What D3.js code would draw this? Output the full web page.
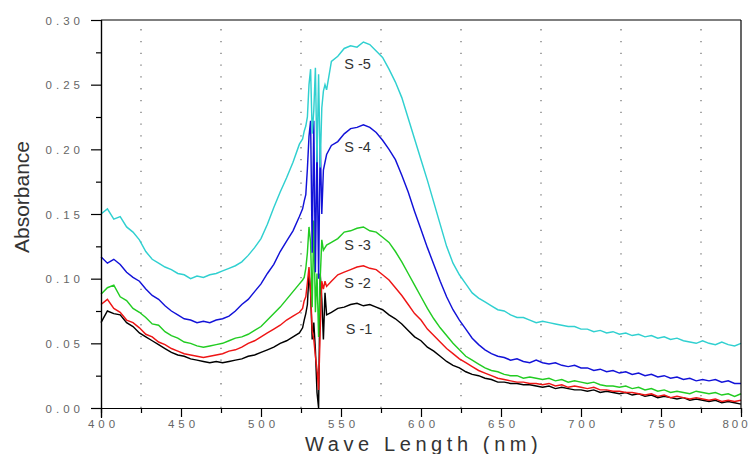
<!DOCTYPE html>
<html><head><meta charset="utf-8">
<script src="https://cdn.jsdelivr.net/npm/d3@7"></script>
<style>body{margin:0;background:#fff}svg{display:block}</style>
</head><body>
<svg id="c" width="753" height="454"></svg>
<script>
// wavelength grid (nm): coarse, fine around the 526-541 nm spikes, coarse
const wavelengths = [].concat(d3.range(400, 525, 4), d3.range(526, 542, 1), d3.range(544, 801, 4));

const seriesNames = ["S -1", "S -2", "S -3", "S -4", "S -5"];
const seriesColors = ["#000000", "#ee1515", "#22cc22", "#1212d8", "#30d0d0"];

// S-1 (black)
const s1 = [
 0.066,0.075,0.073,0.072,0.066,0.063,0.058,0.055,0.052,0.049,0.046,0.043,0.041,0.040,0.038,0.037,
 0.036,0.035,0.036,0.035,0.036,0.037,0.038,0.040,0.041,0.043,0.045,0.047,0.050,0.052,0.055,0.058,
 0.062,0.068,0.073,0.080,0.104,0.089,0.053,0.066,0.045,0.012,0.000,0.104,0.084,0.053,0.089,0.072,
 0.074,0.077,0.078,0.080,0.081,0.079,0.080,0.078,0.076,0.072,0.069,0.065,0.060,0.055,0.052,0.047,
 0.044,0.040,0.036,0.033,0.031,0.028,0.026,0.025,0.023,0.022,0.020,0.020,0.019,0.019,0.018,0.018,
 0.017,0.016,0.017,0.015,0.016,0.015,0.014,0.014,0.013,0.014,0.012,0.013,0.012,0.011,0.012,0.010,
 0.011,0.009,0.010,0.008,0.009,0.008,0.007,0.008,0.006,0.007,0.006,0.005,0.006,0.004,0.005,0.004,
 0.003
];
// S-2 (red)
const s2 = [
 0.080,0.084,0.077,0.074,0.068,0.066,0.062,0.057,0.055,0.051,0.049,0.046,0.044,0.042,0.041,0.040,
 0.039,0.040,0.041,0.042,0.044,0.045,0.047,0.050,0.052,0.055,0.058,0.061,0.064,0.068,0.071,0.074,
 0.077,0.083,0.086,0.097,0.109,0.090,0.060,0.053,0.040,0.030,0.014,0.060,0.098,0.092,0.098,0.094,
 0.098,0.103,0.105,0.107,0.109,0.110,0.108,0.107,0.103,0.099,0.093,0.087,0.080,0.073,0.068,0.061,
 0.056,0.051,0.046,0.042,0.038,0.035,0.032,0.029,0.027,0.025,0.023,0.022,0.021,0.020,0.020,0.019,
 0.019,0.018,0.019,0.017,0.018,0.016,0.017,0.016,0.015,0.016,0.014,0.014,0.013,0.013,0.012,0.012,
 0.011,0.010,0.011,0.009,0.010,0.008,0.009,0.008,0.007,0.008,0.007,0.006,0.007,0.005,0.006,0.005,
 0.006
];
// S-3 (green)
const s3 = [
 0.088,0.093,0.095,0.086,0.083,0.077,0.074,0.070,0.065,0.064,0.059,0.056,0.054,0.051,0.050,0.048,
 0.047,0.048,0.049,0.050,0.052,0.054,0.055,0.057,0.060,0.063,0.068,0.073,0.078,0.084,0.090,0.096,
 0.099,0.101,0.108,0.120,0.140,0.128,0.078,0.145,0.074,0.104,0.055,0.100,0.130,0.122,0.124,0.126,
 0.128,0.131,0.136,0.137,0.139,0.140,0.137,0.136,0.132,0.128,0.121,0.113,0.104,0.095,0.086,0.077,
 0.069,0.062,0.056,0.050,0.045,0.040,0.037,0.034,0.031,0.029,0.028,0.026,0.025,0.025,0.023,0.024,
 0.023,0.022,0.023,0.021,0.022,0.020,0.021,0.020,0.019,0.020,0.018,0.017,0.017,0.016,0.017,0.015,
 0.016,0.014,0.015,0.013,0.014,0.012,0.013,0.012,0.011,0.013,0.012,0.011,0.012,0.010,0.011,0.009,
 0.011
];
// S-4 (blue)
const s4 = [
 0.117,0.112,0.115,0.111,0.105,0.101,0.098,0.092,0.087,0.084,0.079,0.075,0.072,0.069,0.068,0.066,
 0.067,0.066,0.068,0.069,0.071,0.075,0.080,0.084,0.090,0.096,0.104,0.111,0.121,0.129,0.137,0.148,
 0.154,0.160,0.165,0.185,0.210,0.222,0.120,0.222,0.105,0.205,0.100,0.207,0.150,0.184,0.190,0.196,
 0.203,0.206,0.212,0.216,0.217,0.219,0.217,0.213,0.207,0.200,0.192,0.180,0.167,0.152,0.138,0.124,
 0.111,0.098,0.086,0.076,0.068,0.061,0.054,0.049,0.045,0.042,0.040,0.039,0.037,0.038,0.036,0.035,
 0.037,0.035,0.034,0.035,0.033,0.032,0.033,0.031,0.031,0.029,0.030,0.028,0.029,0.027,0.028,0.026,
 0.027,0.025,0.026,0.024,0.025,0.023,0.024,0.022,0.023,0.021,0.022,0.021,0.022,0.020,0.021,0.019,
 0.019
];
// S-5 (cyan)
const s5 = [
 0.150,0.154,0.146,0.148,0.140,0.136,0.130,0.121,0.115,0.112,0.109,0.107,0.104,0.103,0.100,0.102,
 0.101,0.103,0.104,0.106,0.108,0.110,0.113,0.118,0.124,0.131,0.142,0.155,0.167,0.178,0.190,0.204,
 0.208,0.214,0.218,0.225,0.250,0.262,0.212,0.230,0.263,0.190,0.258,0.186,0.232,0.245,0.250,0.246,
 0.268,0.272,0.278,0.280,0.279,0.283,0.281,0.276,0.271,0.262,0.252,0.240,0.224,0.208,0.192,0.176,
 0.159,0.142,0.125,0.112,0.103,0.096,0.089,0.085,0.082,0.079,0.076,0.075,0.072,0.070,0.070,0.068,
 0.066,0.067,0.066,0.065,0.064,0.063,0.063,0.061,0.061,0.059,0.060,0.058,0.059,0.057,0.058,0.056,
 0.057,0.055,0.056,0.054,0.055,0.053,0.054,0.052,0.051,0.050,0.052,0.050,0.049,0.051,0.049,0.048,
 0.050
];

const xTicks = [400, 450, 500, 550, 600, 650, 700, 750, 800];
const xMinorTicks = [425, 475, 525, 575, 625, 675, 725, 775];
const yTicks = [0.00, 0.05, 0.10, 0.15, 0.20, 0.25, 0.30];
const yMinorTicks = [0.025, 0.075, 0.125, 0.175, 0.225, 0.275];
const gridX = [425, 475, 525, 575, 625, 675, 725, 775];
const labelSpots = [ // [wavelength, absorbance] where each series name sits
  [553, 0.061], [552, 0.097], [552, 0.126], [552, 0.202], [552, 0.266]
];

const svg = d3.select("#c");
const x = d3.scaleLinear().domain([400, 800]).range([101, 741]);
const y = d3.scaleLinear().domain([0, 0.30]).range([408, 20]);
const font = "'Liberation Sans', Arial, sans-serif";

// dotted vertical grid
svg.append("g").selectAll("line").data(gridX).join("line")
  .attr("x1", d => x(d)).attr("x2", d => x(d))
  .attr("y1", y(0)).attr("y2", y(0.30))
  .attr("stroke", "#777").attr("stroke-width", 1.3)
  .attr("stroke-dasharray", "1.3,10.5");

// curves
const all = [s1, s2, s3, s4, s5];
const line = d3.line().x(d => x(d[0])).y(d => y(d[1]));
all.forEach((s, i) => {
  const n = Math.min(s.length, wavelengths.length);
  const pts = d3.range(n).map(k => [wavelengths[k], s[k]]);
  svg.append("path").datum(pts)
    .attr("d", line).attr("fill", "none")
    .attr("stroke", seriesColors[i]).attr("stroke-width", 1.45)
    .attr("stroke-linejoin", "miter");
});

// frame
svg.append("line").attr("x1", x(400)).attr("x2", x(800)).attr("y1", y(0.30)).attr("y2", y(0.30)).attr("stroke", "#000").attr("stroke-width", 1.2);
svg.append("line").attr("x1", x(800)).attr("x2", x(800)).attr("y1", y(0.30)).attr("y2", y(0)).attr("stroke", "#000").attr("stroke-width", 1.2);

// axes
const xAxis = d3.axisBottom(x).tickValues(xTicks).tickSize(9).tickFormat(d3.format("d"));
const gx = svg.append("g").attr("transform", `translate(0,${y(0)})`).call(xAxis);
const gxm = svg.append("g").attr("transform", `translate(0,${y(0)})`)
  .call(d3.axisBottom(x).tickValues(xMinorTicks).tickSize(5).tickFormat(""));
const yAxis = d3.axisLeft(y).tickValues(yTicks).tickSize(10).tickFormat(d3.format(".2f"));
const gy = svg.append("g").attr("transform", `translate(${x(400)},0)`).call(yAxis);
const gym = svg.append("g").attr("transform", `translate(${x(400)},0)`)
  .call(d3.axisLeft(y).tickValues(yMinorTicks).tickSize(5).tickFormat(""));

[gx, gxm, gy, gym].forEach(g => {
  g.select(".domain").attr("stroke", "#000").attr("stroke-width", 1.2);
  g.selectAll(".tick line").attr("stroke", "#000").attr("stroke-width", 1.2);
});
gx.select(".domain").attr("d", `M${x(400)},0.5H${x(800)}`);
gy.select(".domain").attr("d", `M0.5,${y(0.30)}V${y(0) + 10}`);

gx.selectAll(".tick text")
  .attr("font-family", font).attr("font-size", 11.5).attr("fill", "#666")
  .attr("letter-spacing", d => d === 800 ? "3px" : "4px").attr("y", 12)
  .attr("dx", d => d === 800 ? "-5px" : "2px");
gy.selectAll(".tick text")
  .attr("font-family", font).attr("font-size", 11.5).attr("fill", "#666")
  .attr("letter-spacing", "4px").attr("x", -17).attr("dy", "0.35em");

// axis titles
svg.append("text").attr("x", 305).attr("y", 451)
  .attr("font-family", font).attr("font-size", 20).attr("fill", "#333")
  .attr("letter-spacing", "4.6px").text("Wave Length (nm)");
svg.append("text").attr("transform", "translate(29,197) rotate(-90)")
  .attr("text-anchor", "middle")
  .attr("font-family", font).attr("font-size", 21).attr("fill", "#333")
  .text("Absorbance");

// series labels
svg.append("g").selectAll("text").data(seriesNames).join("text")
  .attr("x", (d, i) => x(labelSpots[i][0]))
  .attr("y", (d, i) => y(labelSpots[i][1]))
  .attr("dy", "0.35em")
  .attr("font-family", font).attr("font-size", 14.5).attr("fill", "#333")
  .text(d => d);
</script>
</body></html>
